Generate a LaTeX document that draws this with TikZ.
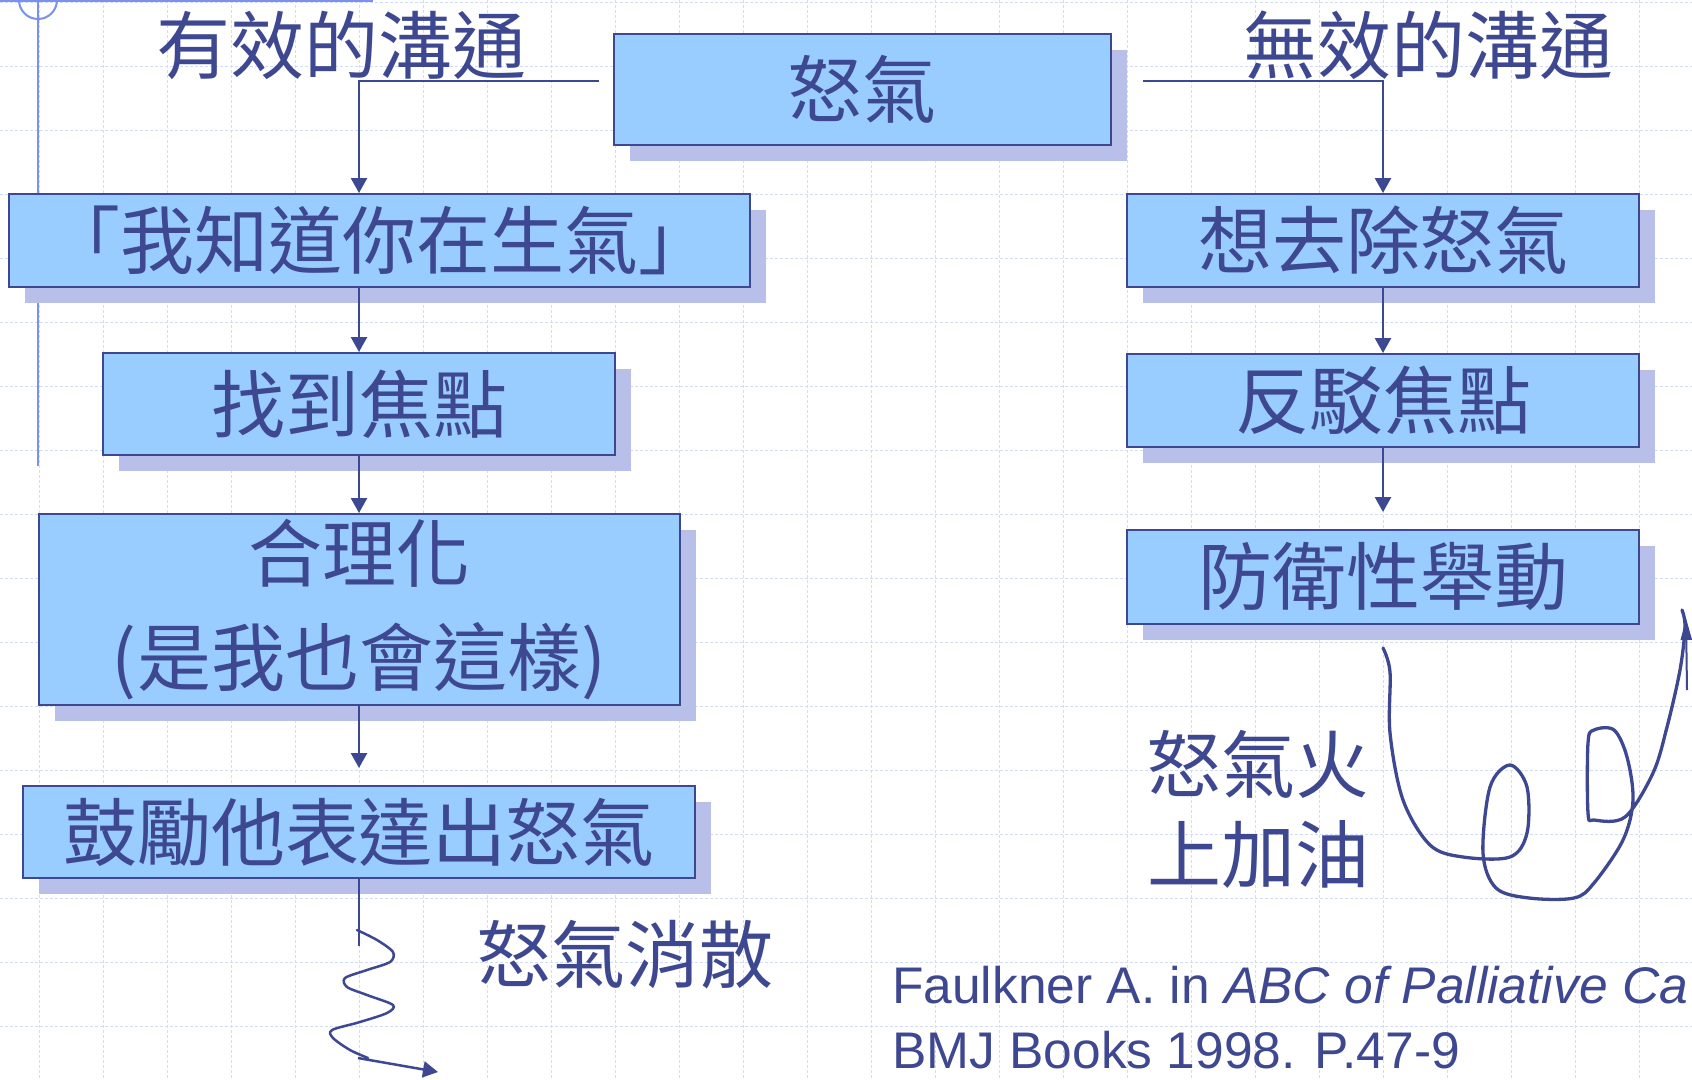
\documentclass[tikz,border=0pt]{standalone}
\usepackage{fontspec}
\setmainfont{Liberation Sans}
\newfontfamily\cjkfont{Noto Sans CJK TC}
\usetikzlibrary{arrows.meta,shadows,calc}
\definecolor{txt}{RGB}{62,72,145}
\definecolor{boxc}{RGB}{153,204,255}
\definecolor{shadowc}{RGB}{184,192,234}
\definecolor{gridc}{RGB}{208,220,250}
\definecolor{railc}{RGB}{122,145,240}
\begin{document}
\begin{tikzpicture}[x=1pt,y=-1pt,
  flowbox/.style={draw=txt, line width=2pt, fill=boxc, inner sep=0pt, text=txt,
    font=\cjkfont\fontsize{74}{104}\selectfont, align=center,
    drop shadow={shadow xshift=16pt, shadow yshift=-16pt, fill=shadowc, draw=none, opacity=1}},
  plaintext/.style={text=txt, inner sep=0pt, font=\cjkfont\fontsize{74}{90}\selectfont, align=center},
  conn/.style={draw=txt, line width=2.5pt, -{Triangle[length=15pt,width=16pt]}},
  handline/.style={draw=txt, line width=3pt, line cap=round, line join=round},
  gridline/.style={draw=gridc, line width=1pt, dash pattern=on 3pt off 2pt},
  citetext/.style={anchor=base west, inner sep=0pt, text=txt, font=\fontsize{51.5}{60}\selectfont},
]
\useasboundingbox (0,0) rectangle (1692,1079);
\clip (0,0) rectangle (1692,1079);
\fill[white] (0,0) rectangle (1692,1079);
% grid
\foreach \i in {0,...,25} \draw[gridline] (39+64*\i,0) -- (39+64*\i,1079);
\foreach \j in {0,...,16} \draw[gridline] (0,2+64*\j) -- (1692,2+64*\j);
% rail decoration
\draw[railc, line width=2pt] (38,0) -- (38,466);
\draw[railc, line width=2pt] (38,0) circle (19);
\draw[railc, line width=2pt] (0,1) -- (373,1);
% titles
\node[plaintext] (t1) at (341,45) {有效的溝通};
\node[plaintext] (t2) at (1428,45) {無效的溝通};
% boxes
\node[flowbox, minimum width=497pt, minimum height=111pt] (top) at (862.5,89.5) {怒氣};
\node[flowbox, minimum width=741pt, minimum height=93pt] (b1) at (379.5,240.5) {「我知道你在生氣」};
\node[flowbox, minimum width=512pt, minimum height=102pt] (b2) at (359,404) {找到焦點};
\node[flowbox, minimum width=641pt, minimum height=191pt] (b3) at (359,609.5) {合理化\\(是我也會這樣)};
\node[flowbox, minimum width=672pt, minimum height=92pt] (b4) at (359,832) {鼓勵他表達出怒氣};
\node[flowbox, minimum width=512pt, minimum height=93pt] (r1) at (1383,240.5) {想去除怒氣};
\node[flowbox, minimum width=512pt, minimum height=93pt] (r2) at (1383,400.5) {反駁焦點};
\node[flowbox, minimum width=512pt, minimum height=94pt] (r3) at (1383,577) {防衛性舉動};
% connectors
\coordinate (L0) at (599,81);
\coordinate (R0) at (1143,81);
\draw[conn] (L0) -| (b2.north |- b1.north);
\draw[conn] (R0) -| (r1.north);
\draw[conn] (b2.north |- b1.south) -- (b2.north);
\draw[conn] (b2.south) -- (b3.north);
\draw[conn] (b3.south) -- ([yshift=17pt]b4.north);
\draw[conn] (r1.south) -- (r2.north);
\draw[conn] (r2.south) -- ([yshift=17pt]r3.north);
% squiggle
\coordinate (S0) at (359,946);
\draw[txt, line width=2.5pt] (b4.south) -- (S0);
\draw[handline, line width=2.5pt] plot[smooth] coordinates {(357,930) (377,940) (393,952) (390,962) (367,970) (345,978) (347,987) (367,995) (393,1005) (387,1013) (360,1022) (332,1030) (333,1038) (350,1050) (368,1058)};
\coordinate (S1) at (358,1058);
\coordinate (S2) at (438,1072);
\draw[conn] (S1) -- (S2);
\node[plaintext] (calm) at (625,955) {怒氣消散};
% right loop
\draw[handline, line width=3.3pt] plot[smooth, tension=0.55] coordinates {(1383,648) (1390,672) (1390,733) (1403,800) (1430,845) (1463,857) (1510,857) (1527,833) (1527,787) (1510,765) (1490,787) (1483,853) (1496,888) (1529,898) (1574,898) (1594,883) (1623,840) (1633,800) (1627,757) (1614,730) (1594,730) (1588,743) (1588,813) (1594,820) (1625,817) (1653,773) (1667,727) (1680,670) (1685,627) (1682,610)};
\coordinate (U0) at (1687,690);
\coordinate (U1) at (1686,618);
\draw[txt, line width=2pt, -{Triangle[length=22pt,width=11pt]}] (U0) -- (U1);
\node[plaintext] (fuel) at (1258,809) {怒氣火\\上加油};
% citation
\node[citetext] (cite1) at (892,1003) {Faulkner A. in \textit{ABC of Palliative Ca}};
\node[citetext] (cite2) at (892,1068) {BMJ Books 1998. P.47-9};
\end{tikzpicture}
\end{document}
